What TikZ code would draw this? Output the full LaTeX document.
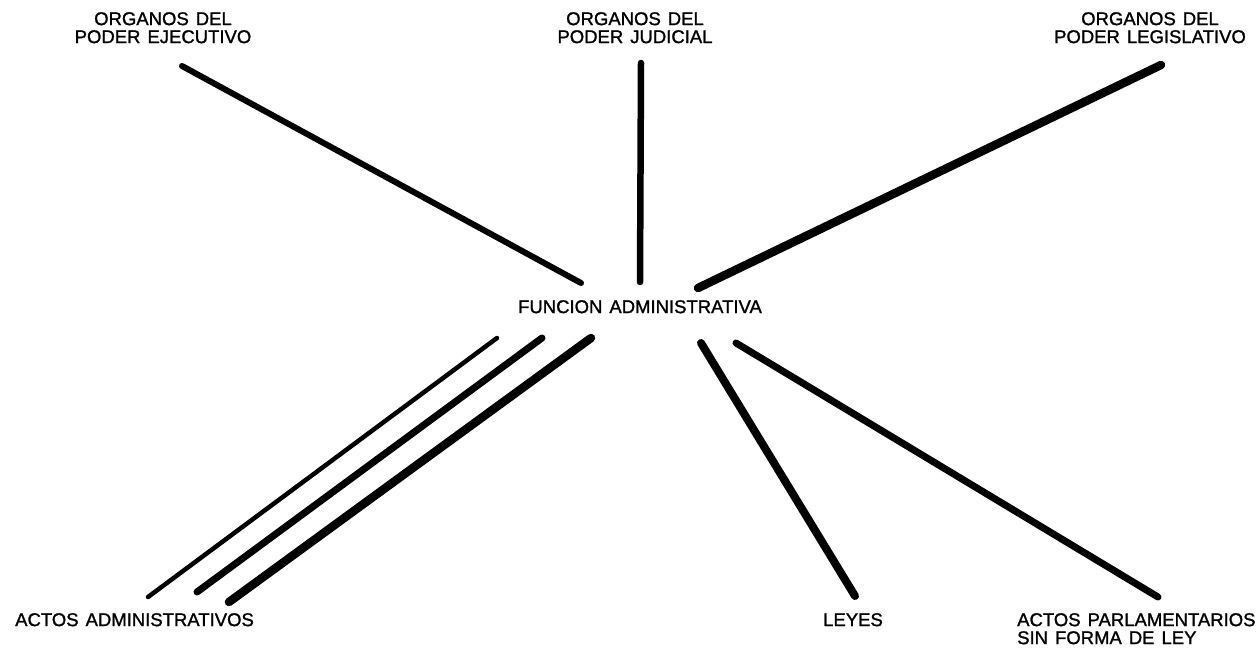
\documentclass[tikz,border=0pt]{standalone}
\usepackage{fontspec}
\setmainfont{Liberation Sans}
\newfontfamily\lblfam[FakeBold=1.3]{Liberation Sans}
\newcommand\lblfont{\lblfam\fontsize{18.5}{18}\selectfont\spaceskip=7pt\relax}
\begin{document}
\begin{tikzpicture}[x=1pt,y=-1pt,
  lbl/.style={inner sep=0pt,font=\lblfont},
  ray/.style={line cap=round,draw=black}]
\useasboundingbox (0,0) rectangle (1259,653);
% labels
\node[lbl,align=center,anchor=north] (ej) at (163,12) {ORGANOS DEL\\PODER EJECUTIVO};
\node[lbl,align=center,anchor=north] (ju) at (635,12) {ORGANOS DEL\\PODER JUDICIAL};
\node[lbl,align=center,anchor=north] (le) at (1150,12) {ORGANOS DEL\\PODER LEGISLATIVO};
\node[lbl,anchor=north] (fa) at (640,300) {FUNCION ADMINISTRATIVA};
\node[lbl,anchor=north west] (aa) at (15,613) {ACTOS ADMINISTRATIVOS};
\node[lbl,anchor=north west] (ly) at (823,613) {LEYES};
\node[lbl,align=left,anchor=north west] (ap) at (1017,613) {ACTOS PARLAMENTARIOS\\SIN FORMA DE LEY};
% line end points
\coordinate (e1) at (182,66);   \coordinate (e2) at (581,283);
\coordinate (j1) at (641,63);   \coordinate (j2) at (640,282);
\coordinate (l1) at (1161,65);  \coordinate (l2) at (698,288);
\coordinate (a1) at (497,338);  \coordinate (a1b) at (148,597);
\coordinate (a2) at (542,338);  \coordinate (a2b) at (197,592);
\coordinate (a3) at (591,338);  \coordinate (a3b) at (229,602);
\coordinate (y1) at (701,343);  \coordinate (y2) at (855,596);
\coordinate (p1) at (736,343);  \coordinate (p2) at (1158,597);
% rays
\draw[ray,line width=6pt] (e1) -- (e2);
\draw[ray,line width=6.5pt] (j1) -- (j2);
\draw[ray,line width=8.5pt] (l1) -- (l2);
\draw[ray,line width=4.5pt] (a1) -- (a1b);
\draw[ray,line width=7pt] (a2) -- (a2b);
\draw[ray,line width=8.5pt] (a3) -- (a3b);
\draw[ray,line width=8pt] (y1) -- (y2);
\draw[ray,line width=7pt] (p1) -- (p2);
\end{tikzpicture}
\end{document}
